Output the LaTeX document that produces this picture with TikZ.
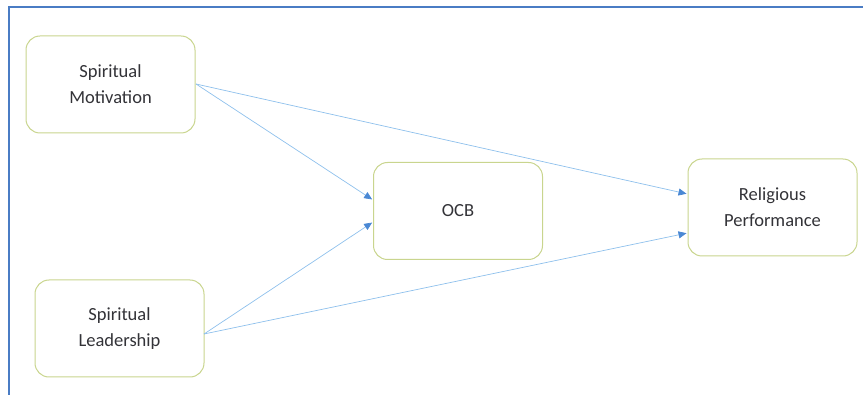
\documentclass[tikz,border=0pt]{standalone}
\usepackage{fontspec}
\setmainfont{Carlito}
\usetikzlibrary{arrows.meta}
\definecolor{frameblue}{HTML}{4A7CC4}
\definecolor{boxline}{HTML}{C9D58E}
\definecolor{arrowblue}{HTML}{8EC0EC}
\definecolor{headblue}{HTML}{4A88D4}
\definecolor{txt}{HTML}{333338}
\tikzset{
  varbox/.style={draw=boxline, line width=1pt, rounded corners=14pt, fill=white,
    minimum width=169pt, minimum height=97pt, align=center, text=txt,
    font=\fontsize{18.5}{26}\selectfont, inner sep=0pt},
  link/.style={draw=arrowblue, line width=0.7pt,
    -{Triangle[length=8pt,width=7pt,color=headblue,fill=headblue]}, shorten >=1pt}
}
\begin{document}
\begin{tikzpicture}[x=1pt,y=1pt]
\useasboundingbox (0,0) rectangle (863,394);
\begin{scope}
\clip (0,0) rectangle (863,394);
\draw[frameblue, line width=2pt] (9,-20) -- (9,387) -- (880,387);
\end{scope}
\node[varbox] (sm) at (110.5,309.5) {Spiritual\\Motivation};
\node[varbox] (sl) at (119.5,65.5) {Spiritual\\Leadership};
\node[varbox] (ocb) at (458,183) {OCB};
\node[varbox] (rp) at (772.5,186.5) {Religious\\Performance};
\coordinate (smo) at (196,310);
\coordinate (slo) at (204,60);
\draw[link] (smo) -- ([yshift=11pt]ocb.west);
\draw[link] (smo) -- ([yshift=13.5pt]rp.west);
\draw[link] (slo) -- ([yshift=-11pt]ocb.west);
\draw[link] (slo) -- ([yshift=-25.5pt]rp.west);
\end{tikzpicture}
\end{document}
